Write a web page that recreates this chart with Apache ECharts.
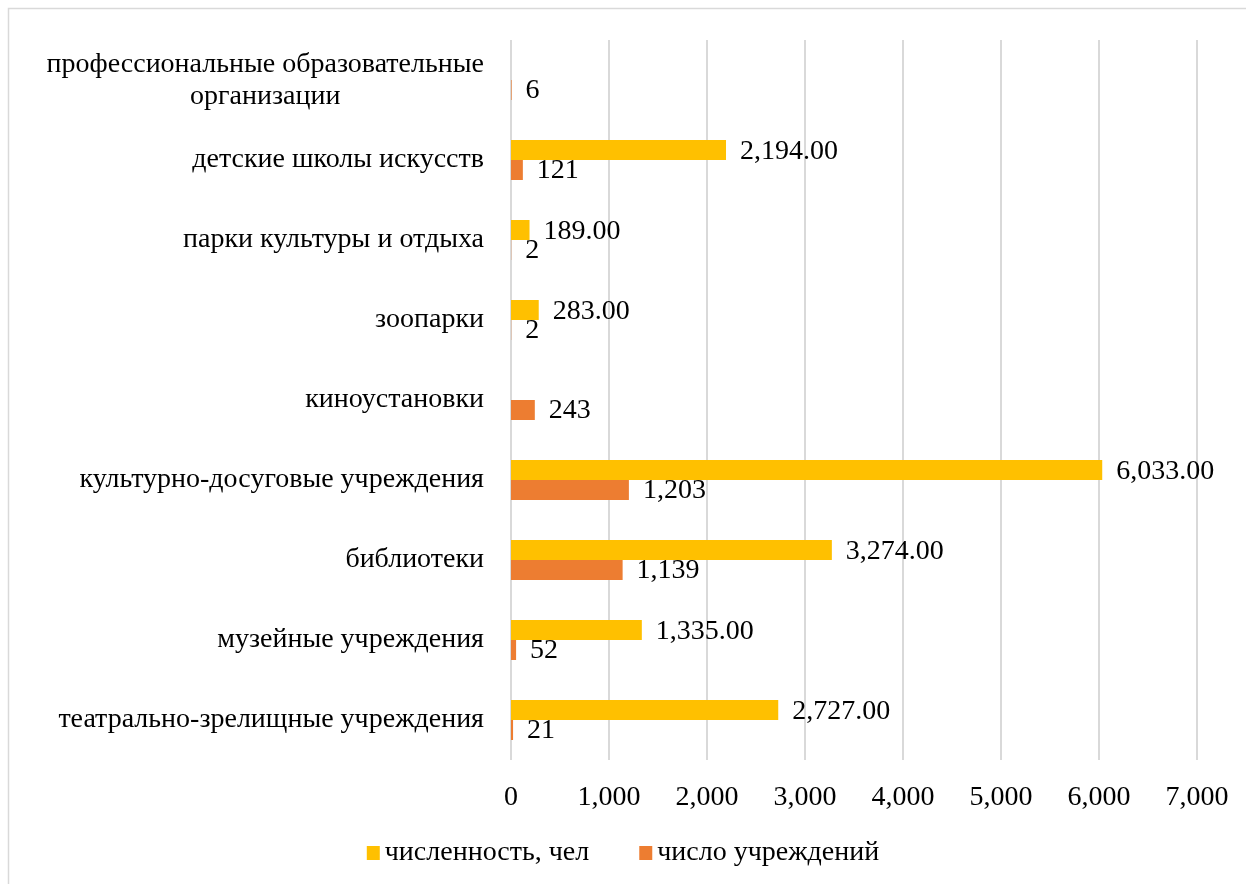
<!DOCTYPE html>
<html><head><meta charset="utf-8">
<script src="https://cdn.jsdelivr.net/npm/echarts@6/dist/echarts.min.js"></script>
<style>html,body{margin:0;padding:0;background:#fff}#c{width:1246px;height:884px}</style>
</head><body><div id="c"></div>
<script>
const categories = ['театрально-зрелищные учреждения','музейные учреждения','библиотеки','культурно-досуговые учреждения','киноустановки','зоопарки','парки культуры и отдыха','детские школы искусств','профессиональные образовательные\nорганизации'];
const staffCount = [2727, 1335, 3274, 6033, null, 283, 189, 2194, null];
const institutionCount = [21, 52, 1139, 1203, 243, 2, 2, 121, 6];
const xTicks = [0, 1000, 2000, 3000, 4000, 5000, 6000, 7000];
const seriesNames = ['численность, чел', 'число учреждений'];

const FONT = '"Liberation Serif", "Times New Roman", serif';
const FS = 28;
const fmt2 = v => v.toLocaleString('en-US', {minimumFractionDigits: 2, maximumFractionDigits: 2});
const fmt0 = v => v.toLocaleString('en-US');

const chart = echarts.init(document.getElementById('c'));
chart.setOption({
  animation: false,
  backgroundColor: '#fff',
  graphic: [{type: 'rect', shape: {x: 8.5, y: 8.5, width: 1300, height: 1000}, style: {fill: 'none', stroke: '#d9d9d9', lineWidth: 1.5}, silent: true, z: -1}],
  grid: {left: 511, right: 49, top: 40, bottom: 124, containLabel: false},
  legend: {
    bottom: 12, left: 'center', itemWidth: 13, itemHeight: 14, itemGap: 50,
    icon: 'rect',
    textStyle: {fontFamily: FONT, fontSize: FS, color: '#000'},
    data: seriesNames
  },
  xAxis: {
    type: 'value', min: xTicks[0], max: xTicks[xTicks.length - 1], interval: 1000,
    axisLine: {show: false}, axisTick: {show: false},
    splitLine: {show: true, lineStyle: {color: '#d9d9d9', width: 2}},
    axisLabel: {fontFamily: FONT, fontSize: FS, color: '#000', margin: 24, formatter: v => fmt0(v)}
  },
  yAxis: {
    type: 'category', data: categories,
    axisLine: {show: false}, axisTick: {show: false},
    axisLabel: {
      fontFamily: FONT, fontSize: FS, color: '#000', margin: 27,
      formatter: v => v.indexOf('\n') >= 0 ? v.split('\n').map(s => '{c|' + s + '}').join('\n') : v,
      rich: {c: {fontFamily: FONT, fontSize: FS, color: '#000', align: 'center', lineHeight: 32, padding: [2, 0, 0, 0]}}
    }
  },
  series: [
    {
      name: seriesNames[0], type: 'bar', data: staffCount, barWidth: 20, barGap: '0%',
      itemStyle: {color: '#FFC000'},
      label: {show: true, position: 'right', distance: 14, offset: [0, 2], fontFamily: FONT, fontSize: FS, color: '#000',
        formatter: p => p.value == null ? '' : fmt2(p.value)}
    },
    {
      name: seriesNames[1], type: 'bar', data: institutionCount, barWidth: 20, barGap: '0%',
      itemStyle: {color: '#ED7D31'},
      label: {show: true, position: 'right', distance: 14, offset: [0, 1], fontFamily: FONT, fontSize: FS, color: '#000',
        formatter: p => fmt0(p.value)}
    }
  ]
});
</script></body></html>
